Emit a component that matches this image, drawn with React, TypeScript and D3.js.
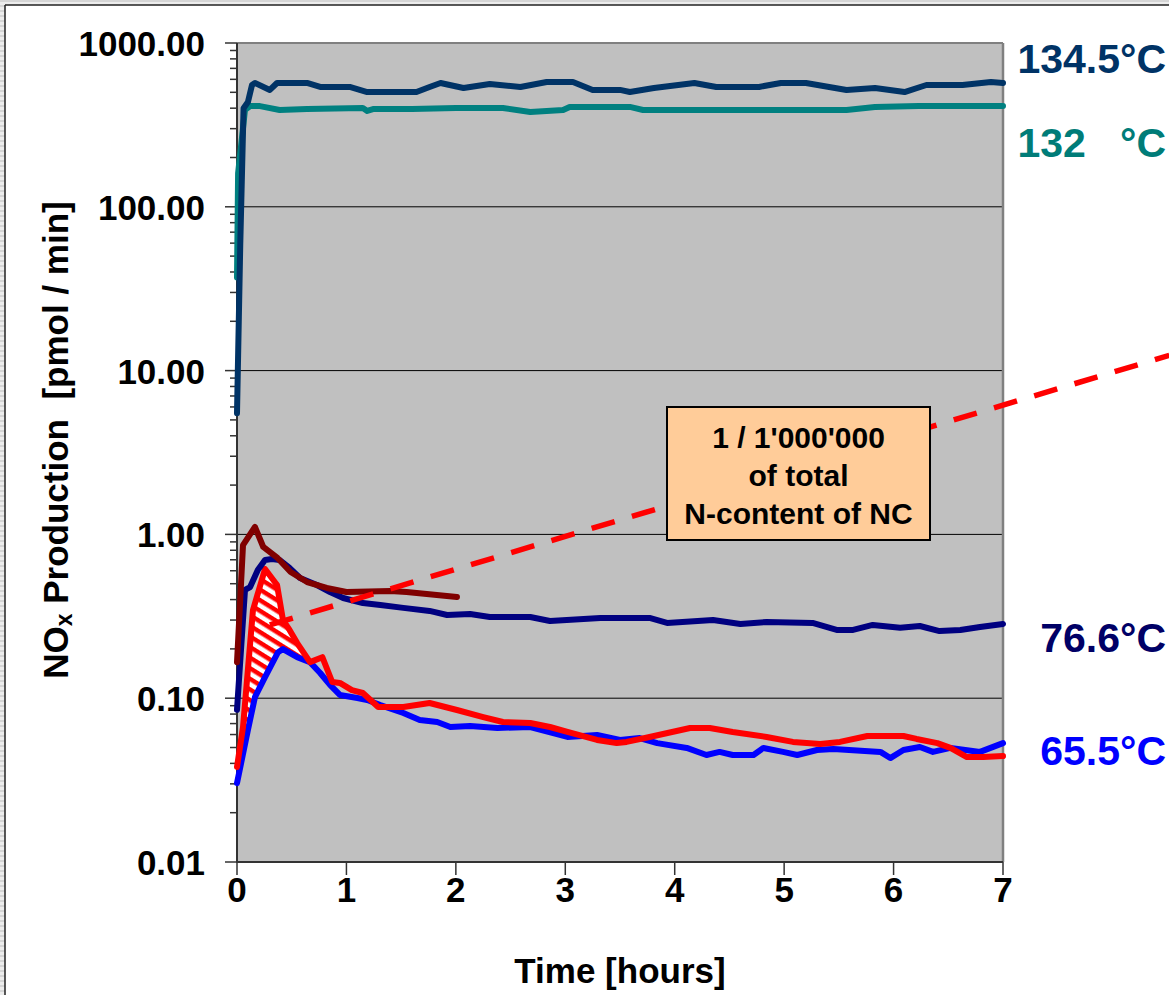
import * as d3 from "d3";

// --- data: time [h] / NOx production [pmol/min] ---

const hourTicks = [0, 1, 2, 3, 4, 5, 6, 7];
const yTickValues = [0.01, 0.1, 1, 10, 100, 1000];
const yTickLabels = ["0.01", "0.10", "1.00", "10.00", "100.00", "1000.00"];

// 134.5 °C
const t1345 = [0, 0.03, 0.06, 0.1, 0.137, 0.164, 0.3, 0.366, 0.44, 0.64, 0.76, 1.03, 1.19, 1.43, 1.64, 1.76, 1.86, 2.07, 2.31, 2.59, 2.83, 3.07, 3.25, 3.5, 3.59, 3.81, 4.18, 4.38, 4.77, 4.97, 5.2, 5.57, 5.83, 6.1, 6.3, 6.63, 6.89, 7.0];
const v1345 = [5.5, 60, 400, 436, 554, 570, 517, 570, 570, 570, 539, 539, 502, 502, 502, 539, 570, 531, 562, 539, 578, 578, 517, 517, 502, 531, 570, 539, 539, 570, 570, 517, 531, 502, 554, 554, 578, 570];

// 132 °C
const t132 = [0, 0.01, 0.073, 0.12, 0.21, 0.39, 0.64, 1.15, 1.19, 1.25, 1.6, 2.0, 2.43, 2.68, 2.98, 3.04, 3.59, 3.71, 4.58, 5.57, 5.83, 6.23, 7.0];
const v132 = [37, 160, 390, 412, 412, 390, 396, 401, 385, 396, 396, 401, 401, 379, 390, 407, 407, 390, 390, 390, 407, 412, 412];

// 76.6 °C
const t766 = [0, 0.073, 0.12, 0.19, 0.256, 0.32, 0.39, 0.48, 0.576, 0.73, 0.85, 0.97, 1.15, 1.31, 1.52, 1.76, 1.92, 2.13, 2.31, 2.68, 2.86, 3.32, 3.77, 3.93, 4.35, 4.6, 4.84, 5.26, 5.48, 5.63, 5.81, 6.06, 6.24, 6.42, 6.61, 6.79, 7.0];
const v766 = [0.085, 0.458, 0.477, 0.606, 0.698, 0.708, 0.698, 0.624, 0.542, 0.491, 0.445, 0.409, 0.381, 0.371, 0.356, 0.341, 0.322, 0.327, 0.313, 0.313, 0.296, 0.309, 0.309, 0.288, 0.3, 0.284, 0.292, 0.288, 0.261, 0.261, 0.28, 0.269, 0.276, 0.257, 0.261, 0.272, 0.284];

// short run, dark red
const tShort = [0, 0.055, 0.164, 0.24, 0.37, 0.49, 0.64, 0.82, 1.0, 1.4, 1.55, 2.01];
const vShort = [0.166, 0.861, 1.11, 0.838, 0.718, 0.589, 0.512, 0.471, 0.445, 0.451, 0.445, 0.415];

// 65.5 °C
const t655 = [0, 0.1, 0.164, 0.256, 0.375, 0.42, 0.55, 0.667, 0.76, 0.85, 0.94, 1.1, 1.19, 1.31, 1.52, 1.67, 1.83, 1.95, 2.13, 2.38, 2.68, 3.02, 3.29, 3.5, 3.68, 3.84, 4.11, 4.29, 4.41, 4.53, 4.72, 4.81, 4.99, 5.12, 5.3, 5.45, 5.88, 5.97, 6.09, 6.24, 6.36, 6.52, 6.79, 7.0];
const v655 = [0.0303, 0.064, 0.1016, 0.1346, 0.191, 0.1995, 0.178, 0.166, 0.1425, 0.1205, 0.1047, 0.1003, 0.0975, 0.0908, 0.0812, 0.0736, 0.0716, 0.0667, 0.0676, 0.0658, 0.0667, 0.058, 0.0596, 0.0556, 0.0571, 0.0532, 0.0497, 0.045, 0.047, 0.045, 0.045, 0.0497, 0.047, 0.045, 0.0483, 0.049, 0.047, 0.0431, 0.0483, 0.0504, 0.047, 0.0497, 0.047, 0.0532];

// second 65.5 °C run (red)
const tRed = [0, 0.055, 0.146, 0.256, 0.366, 0.42, 0.48, 0.55, 0.667, 0.78, 0.87, 0.94, 1.05, 1.15, 1.29, 1.52, 1.76, 2.01, 2.25, 2.43, 2.68, 2.86, 3.02, 3.29, 3.47, 3.56, 3.77, 4.14, 4.32, 4.53, 4.84, 5.08, 5.33, 5.51, 5.76, 6.09, 6.21, 6.4, 6.52, 6.67, 6.82, 7.0];
const vRed = [0.038, 0.0667, 0.345, 0.615, 0.491, 0.3, 0.261, 0.217, 0.166, 0.178, 0.1256, 0.124, 0.112, 0.1076, 0.0883, 0.0883, 0.0935, 0.0847, 0.0767, 0.0716, 0.0706, 0.0667, 0.0622, 0.0556, 0.0532, 0.0541, 0.058, 0.0658, 0.0658, 0.0622, 0.058, 0.0541, 0.0525, 0.0541, 0.0588, 0.0588, 0.0564, 0.0532, 0.0497, 0.0437, 0.0437, 0.0443];

// hatched area between red and blue runs, up to where they meet
const hatchEndHour = 0.667;

// 1 / 1'000'000 of total N-content (dashed)
const nLimitT = [0.3, 8.52];
const nLimitV = [0.28, 12.4];

const rightLabels = [
  { text: "134.5°C", color: "#003366", baseline: 73 },
  { text: "132   °C", color: "#007C78", baseline: 157 },
  { text: "76.6°C", color: "#000066", baseline: 652 },
  { text: "65.5°C", color: "#0000FF", baseline: 765 },
];

const boxLines = ["1 / 1'000'000", "of total", "N-content of NC"];

// --- layout ---

const W = 1169;
const H = 995;
const PLOT = { left: 237, right: 1003, top: 43, bottom: 862 };
const FONT = "'Liberation Sans', Arial, sans-serif";
const BOX = { x: 667, y: 407, w: 263, h: 133 };

const x = d3.scaleLinear().domain([0, 7]).range([PLOT.left, PLOT.right]);
const y = d3.scaleLog().domain([0.01, 1000]).range([PLOT.bottom, PLOT.top]);

const line = d3
  .line<[number, number]>()
  .x((d) => x(d[0]))
  .y((d) => y(d[1]));

const pairs = (ts: number[], vs: number[]) =>
  ts.map((t, i) => [t, vs[i]] as [number, number]);

const series = [
  { data: pairs(t655, v655), color: "#0000FF" },
  { data: pairs(tRed, vRed), color: "#FF0000" },
  { data: pairs(t766, v766), color: "#000080" },
  { data: pairs(tShort, vShort), color: "#800000" },
  { data: pairs(t132, v132), color: "#008080" },
  { data: pairs(t1345, v1345), color: "#003366" },
];

const minorTicks: number[] = [];
for (let e = -2; e < 3; e++) {
  for (let k = 2; k <= 9; k++) minorTicks.push(k * Math.pow(10, e));
}

export default function App() {
  const hatchTop = pairs(tRed, vRed).filter((d) => d[0] <= hatchEndHour);
  const hatchBottom = pairs(t655, v655)
    .filter((d) => d[0] <= hatchEndHour)
    .reverse();
  const hatchPath = line([...hatchTop, ...hatchBottom]) + "Z";

  return (
    <div style={{ position: "absolute", left: 0, top: 0 }}>
      <svg width={W} height={H} style={{ display: "block" }}>
        <defs>
          <pattern
            id="hatch"
            width="9"
            height="9"
            patternUnits="userSpaceOnUse"
            patternTransform="rotate(32)"
          >
            <rect width="9" height="9" fill="#FFFFFF" />
            <rect width="9" height="4.5" fill="#FF0000" />
          </pattern>
          <pattern id="frameStripe" width="5" height="5" patternUnits="userSpaceOnUse">
            <rect width="5" height="5" fill="#EDEDED" />
            <rect width="5" height="2" fill="#D6D6D6" />
          </pattern>
        </defs>

        {/* slide frame */}
        <rect x={0} y={0} width={W} height={H} fill="url(#frameStripe)" />
        <rect x={5} y={5} width={W - 5} height={H - 5} fill="#FFFFFF" />
        <line x1={5} y1={5} x2={W} y2={5} stroke="#222" strokeWidth={1.5} />
        <line x1={5} y1={5} x2={5} y2={H} stroke="#222" strokeWidth={1.5} />

        {/* plot area */}
        <rect
          x={PLOT.left}
          y={PLOT.top}
          width={PLOT.right - PLOT.left}
          height={PLOT.bottom - PLOT.top}
          fill="#C0C0C0"
        />
        {yTickValues.slice(1, -1).map((v) => (
          <line
            key={v}
            x1={PLOT.left}
            x2={PLOT.right}
            y1={y(v)}
            y2={y(v)}
            stroke="#000"
            strokeWidth={1}
          />
        ))}
        <line x1={PLOT.left} x2={PLOT.right} y1={PLOT.top} y2={PLOT.top} stroke="#808080" strokeWidth={2} />
        <line x1={PLOT.right} x2={PLOT.right} y1={PLOT.top} y2={PLOT.bottom} stroke="#808080" strokeWidth={2.5} />

        {/* y axis */}
        {minorTicks.map((v) => (
          <line key={v} x1={PLOT.left - 7} x2={PLOT.left} y1={y(v)} y2={y(v)} stroke="#333" strokeWidth={1.5} />
        ))}
        {yTickValues.map((v, i) => (
          <g key={v}>
            <line x1={PLOT.left - 12} x2={PLOT.left} y1={y(v)} y2={y(v)} stroke="#333" strokeWidth={1.5} />
            <text
              x={205}
              y={y(v) + 13}
              textAnchor="end"
              fontFamily={FONT}
              fontWeight="bold"
              fontSize={35}
              fill="#000"
            >
              {yTickLabels[i]}
            </text>
          </g>
        ))}
        <text
          transform="translate(68,440) rotate(-90)"
          textAnchor="middle"
          fontFamily={FONT}
          fontWeight="bold"
          fontSize={35}
          fill="#000"
          style={{ whiteSpace: "pre" }}
        >
          NO<tspan fontSize={23} dy={4}>x</tspan>
          <tspan dy={-4}> Production  [pmol / min]</tspan>
        </text>

        {/* x axis */}
        {hourTicks.map((h) => (
          <g key={h}>
            <line x1={x(h)} x2={x(h)} y1={PLOT.bottom} y2={PLOT.bottom + 13} stroke="#333" strokeWidth={1.5} />
            <text
              x={x(h)}
              y={902}
              textAnchor="middle"
              fontFamily={FONT}
              fontWeight="bold"
              fontSize={35}
              fill="#000"
            >
              {h}
            </text>
          </g>
        ))}
        <text
          x={620}
          y={983}
          textAnchor="middle"
          fontFamily={FONT}
          fontWeight="bold"
          fontSize={35}
          fill="#000"
        >
          Time [hours]
        </text>
        <line x1={PLOT.left} x2={PLOT.left} y1={PLOT.top} y2={PLOT.bottom + 1} stroke="#333" strokeWidth={2} />
        <line x1={PLOT.left} x2={PLOT.right} y1={PLOT.bottom} y2={PLOT.bottom} stroke="#333" strokeWidth={2} />

        {/* hatched difference */}
        <path d={hatchPath} fill="url(#hatch)" stroke="none" />

        {/* series */}
        {series.map((s, i) => (
          <path
            key={i}
            d={line(s.data) ?? ""}
            fill="none"
            stroke={s.color}
            strokeWidth={6}
            strokeLinejoin="round"
            strokeLinecap="round"
          />
        ))}

        {/* N-content reference, dashed */}
        <path
          d={line(pairs(nLimitT, nLimitV)) ?? ""}
          fill="none"
          stroke="#FF0000"
          strokeWidth={5.5}
          strokeDasharray="24 18"
        />

        {/* annotation box */}
        <rect x={BOX.x} y={BOX.y} width={BOX.w} height={BOX.h} fill="#FFCC99" stroke="#000" strokeWidth={2} />
        {boxLines.map((l, i) => (
          <text
            key={l}
            x={BOX.x + BOX.w / 2}
            y={BOX.y + 41 + i * 38}
            textAnchor="middle"
            fontFamily={FONT}
            fontWeight="bold"
            fontSize={30}
            fill="#000"
          >
            {l}
          </text>
        ))}

        {/* right-hand temperature labels */}
        {rightLabels.map((l) => (
          <text
            key={l.text}
            x={1166}
            y={l.baseline}
            textAnchor="end"
            fontFamily={FONT}
            fontWeight="bold"
            fontSize={41}
            fill={l.color}
            style={{ whiteSpace: "pre" }}
          >
            {l.text}
          </text>
        ))}
      </svg>
    </div>
  );
}
